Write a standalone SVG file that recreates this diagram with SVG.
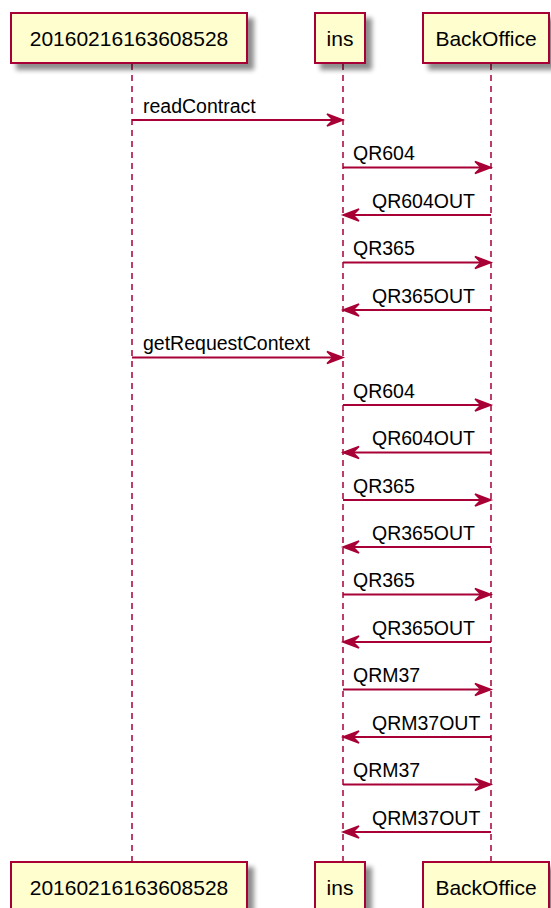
<svg xmlns="http://www.w3.org/2000/svg" width="551" height="908" viewBox="0 0 551 908">
  <style>
    .box { fill: #FEFECE; stroke: #A80036; stroke-width: 2; }
    .name { font-family: "Liberation Sans", Arial, sans-serif; font-size: 21px; fill: #000; text-anchor: middle; }
    .life { stroke: #A80036; stroke-width: 1.5; stroke-dasharray: 6 5; fill: none; }
    .msg { stroke: #A80036; stroke-width: 2; fill: none; }
    .head { fill: #A80036; stroke: #A80036; stroke-width: 1.5; }
    .lbl { font-family: "Liberation Sans", Arial, sans-serif; font-size: 19.5px; fill: #000; }
  </style>
  <defs>
    <filter id="shadow" x="-20%" y="-20%" width="150%" height="160%">
      <feGaussianBlur in="SourceAlpha" stdDeviation="2.5"/>
      <feOffset dx="6" dy="6" result="b"/>
      <feComponentTransfer><feFuncA type="linear" slope="0.45"/></feComponentTransfer>
      <feMerge><feMergeNode/><feMergeNode in="SourceGraphic"/></feMerge>
    </filter>
    <polygon id="headR" class="head" points="-16,-6 0,0 -16,6 -10,0"/>
    <polygon id="headL" class="head" points="16,-6 0,0 16,6 10,0"/>
  </defs>

  <rect width="551" height="908" fill="#FFFFFF"/>

  <!-- lifelines -->
  <g id="lifelines">
    <line class="life" x1="132" y1="64" x2="132" y2="862"/>
    <line class="life" x1="343" y1="64" x2="343" y2="862"/>
    <line class="life" x1="491" y1="64" x2="491" y2="862"/>
  </g>

  <!-- participants, top row -->
  <g id="p-20160216163608528">
    <rect class="box" x="11" y="13" width="236" height="50" filter="url(#shadow)"/>
    <text class="name" x="129" y="46">20160216163608528</text>
  </g>
  <g id="p-ins">
    <rect class="box" x="315" y="13" width="50" height="50" filter="url(#shadow)"/>
    <text class="name" x="340" y="46">ins</text>
  </g>
  <g id="p-BackOffice">
    <rect class="box" x="423" y="13" width="126" height="50" filter="url(#shadow)"/>
    <text class="name" x="486" y="46">BackOffice</text>
  </g>

  <!-- participants, bottom row -->
  <g id="p-20160216163608528-foot">
    <rect class="box" x="11" y="862" width="236" height="50" filter="url(#shadow)"/>
    <text class="name" x="129" y="895">20160216163608528</text>
  </g>
  <g id="p-ins-foot">
    <rect class="box" x="315" y="862" width="50" height="50" filter="url(#shadow)"/>
    <text class="name" x="340" y="895">ins</text>
  </g>
  <g id="p-BackOffice-foot">
    <rect class="box" x="423" y="862" width="126" height="50" filter="url(#shadow)"/>
    <text class="name" x="486" y="895">BackOffice</text>
  </g>

  <!-- messages -->
  <g id="messages">
    <line class="msg" x1="132" y1="120" x2="341" y2="120"/><use href="#headR" x="343" y="120"/>
    <text class="lbl" x="143" y="112.5">readContract</text>

    <line class="msg" x1="343" y1="167.5" x2="489" y2="167.5"/><use href="#headR" x="491" y="167.5"/>
    <text class="lbl" x="353" y="160">QR604</text>

    <line class="msg" x1="345" y1="215" x2="491" y2="215"/><use href="#headL" x="343" y="215"/>
    <text class="lbl" x="372" y="207.5">QR604OUT</text>

    <line class="msg" x1="343" y1="262.5" x2="489" y2="262.5"/><use href="#headR" x="491" y="262.5"/>
    <text class="lbl" x="353" y="255">QR365</text>

    <line class="msg" x1="345" y1="310" x2="491" y2="310"/><use href="#headL" x="343" y="310"/>
    <text class="lbl" x="372" y="302.5">QR365OUT</text>

    <line class="msg" x1="132" y1="357.5" x2="341" y2="357.5"/><use href="#headR" x="343" y="357.5"/>
    <text class="lbl" x="143" y="350">getRequestContext</text>

    <line class="msg" x1="343" y1="405" x2="489" y2="405"/><use href="#headR" x="491" y="405"/>
    <text class="lbl" x="353" y="397.5">QR604</text>

    <line class="msg" x1="345" y1="452.5" x2="491" y2="452.5"/><use href="#headL" x="343" y="452.5"/>
    <text class="lbl" x="372" y="445">QR604OUT</text>

    <line class="msg" x1="343" y1="500" x2="489" y2="500"/><use href="#headR" x="491" y="500"/>
    <text class="lbl" x="353" y="492.5">QR365</text>

    <line class="msg" x1="345" y1="547" x2="491" y2="547"/><use href="#headL" x="343" y="547"/>
    <text class="lbl" x="372" y="539.5">QR365OUT</text>

    <line class="msg" x1="343" y1="594.5" x2="489" y2="594.5"/><use href="#headR" x="491" y="594.5"/>
    <text class="lbl" x="353" y="587">QR365</text>

    <line class="msg" x1="345" y1="642" x2="491" y2="642"/><use href="#headL" x="343" y="642"/>
    <text class="lbl" x="372" y="634.5">QR365OUT</text>

    <line class="msg" x1="343" y1="689.5" x2="489" y2="689.5"/><use href="#headR" x="491" y="689.5"/>
    <text class="lbl" x="353" y="682">QRM37</text>

    <line class="msg" x1="345" y1="737" x2="491" y2="737"/><use href="#headL" x="343" y="737"/>
    <text class="lbl" x="372" y="729.5">QRM37OUT</text>

    <line class="msg" x1="343" y1="784.5" x2="489" y2="784.5"/><use href="#headR" x="491" y="784.5"/>
    <text class="lbl" x="353" y="777">QRM37</text>

    <line class="msg" x1="345" y1="832" x2="491" y2="832"/><use href="#headL" x="343" y="832"/>
    <text class="lbl" x="372" y="824.5">QRM37OUT</text>
  </g>
</svg>
